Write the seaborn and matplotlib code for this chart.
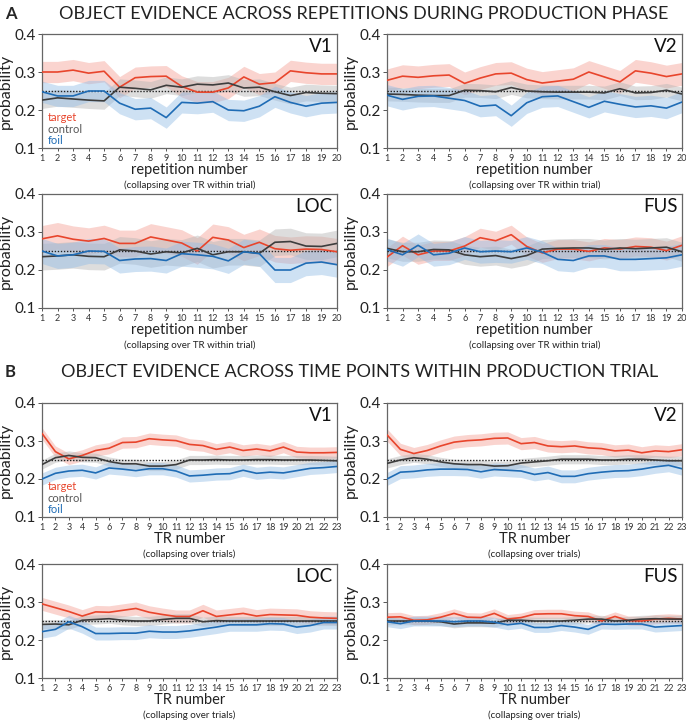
import numpy as np
import pandas as pd
import matplotlib
matplotlib.use("Agg")
import matplotlib.pyplot as plt
import seaborn as sns

# ---- data ----
reps = list(range(1, 21))
trs = list(range(1, 24))
CHANCE = 0.25

# A: across repetitions
rep_v1_target = [0.300, 0.300, 0.305, 0.297, 0.302, 0.260, 0.285, 0.288, 0.289, 0.262,
                 0.247, 0.247, 0.258, 0.287, 0.268, 0.272, 0.303, 0.298, 0.295, 0.295]
rep_v1_control = [0.226, 0.232, 0.229, 0.226, 0.224, 0.260, 0.257, 0.253, 0.265, 0.260,
                  0.268, 0.266, 0.271, 0.258, 0.260, 0.248, 0.238, 0.246, 0.244, 0.243]
rep_v1_foil = [0.248, 0.237, 0.237, 0.250, 0.250, 0.218, 0.202, 0.205, 0.180, 0.220,
               0.218, 0.222, 0.200, 0.198, 0.210, 0.235, 0.220, 0.210, 0.218, 0.220]

rep_v2_target = [0.278, 0.289, 0.286, 0.290, 0.292, 0.270, 0.284, 0.295, 0.297, 0.280,
                 0.271, 0.276, 0.281, 0.300, 0.287, 0.274, 0.303, 0.297, 0.288, 0.295]
rep_v2_control = [0.242, 0.241, 0.239, 0.238, 0.238, 0.252, 0.251, 0.248, 0.259, 0.250,
                  0.248, 0.247, 0.247, 0.247, 0.245, 0.256, 0.245, 0.246, 0.252, 0.242]
rep_v2_foil = [0.239, 0.228, 0.236, 0.237, 0.231, 0.225, 0.210, 0.213, 0.185, 0.219,
               0.235, 0.237, 0.222, 0.207, 0.223, 0.215, 0.208, 0.211, 0.205, 0.221]

rep_loc_target = [0.282, 0.290, 0.281, 0.276, 0.283, 0.270, 0.270, 0.287, 0.279, 0.271,
                  0.250, 0.286, 0.279, 0.259, 0.273, 0.256, 0.252, 0.255, 0.254, 0.248]
rep_loc_control = [0.235, 0.237, 0.240, 0.236, 0.235, 0.253, 0.250, 0.242, 0.248, 0.245,
                   0.257, 0.240, 0.248, 0.248, 0.244, 0.273, 0.275, 0.263, 0.262, 0.270]
rep_loc_foil = [0.250, 0.237, 0.240, 0.250, 0.249, 0.225, 0.229, 0.230, 0.225, 0.243,
                0.240, 0.236, 0.224, 0.248, 0.243, 0.200, 0.200, 0.218, 0.221, 0.214]

rep_fus_target = [0.234, 0.264, 0.240, 0.250, 0.250, 0.263, 0.285, 0.277, 0.293, 0.262,
                  0.245, 0.255, 0.255, 0.249, 0.258, 0.255, 0.262, 0.260, 0.251, 0.265]
rep_fus_control = [0.257, 0.248, 0.248, 0.254, 0.253, 0.240, 0.235, 0.238, 0.230, 0.238,
                   0.255, 0.257, 0.258, 0.258, 0.254, 0.258, 0.256, 0.258, 0.260, 0.248]
rep_fus_foil = [0.254, 0.240, 0.265, 0.240, 0.244, 0.258, 0.248, 0.250, 0.248, 0.258,
                0.247, 0.228, 0.225, 0.237, 0.237, 0.228, 0.228, 0.230, 0.232, 0.240]

# B: across TRs
tr_v1_target = [0.320, 0.272, 0.253, 0.262, 0.275, 0.281, 0.296, 0.297, 0.306, 0.303, 0.301, 0.291,
                0.288, 0.278, 0.284, 0.275, 0.279, 0.274, 0.284, 0.271, 0.269, 0.269, 0.270]
tr_v1_control = [0.238, 0.256, 0.262, 0.257, 0.256, 0.246, 0.240, 0.240, 0.234, 0.234, 0.238, 0.250,
                 0.250, 0.251, 0.250, 0.250, 0.251, 0.251, 0.250, 0.250, 0.250, 0.249, 0.248]
tr_v1_foil = [0.200, 0.215, 0.221, 0.223, 0.216, 0.229, 0.226, 0.222, 0.227, 0.227, 0.221, 0.208,
              0.210, 0.213, 0.214, 0.223, 0.215, 0.218, 0.216, 0.222, 0.228, 0.230, 0.233]

tr_v2_target = [0.316, 0.278, 0.267, 0.275, 0.287, 0.297, 0.301, 0.303, 0.307, 0.308, 0.293, 0.296,
                0.287, 0.285, 0.287, 0.282, 0.280, 0.274, 0.276, 0.269, 0.274, 0.272, 0.277]
tr_v2_control = [0.241, 0.250, 0.256, 0.252, 0.245, 0.240, 0.238, 0.238, 0.234, 0.235, 0.242, 0.245,
                 0.248, 0.252, 0.252, 0.252, 0.250, 0.250, 0.252, 0.252, 0.250, 0.248, 0.248]
tr_v2_foil = [0.200, 0.218, 0.220, 0.224, 0.226, 0.226, 0.225, 0.219, 0.225, 0.223, 0.221, 0.212,
              0.217, 0.207, 0.207, 0.214, 0.218, 0.221, 0.222, 0.226, 0.232, 0.236, 0.227]

tr_loc_target = [0.295, 0.285, 0.275, 0.263, 0.274, 0.273, 0.278, 0.283, 0.273, 0.267, 0.262, 0.262,
                 0.277, 0.262, 0.266, 0.270, 0.263, 0.267, 0.266, 0.265, 0.260, 0.258, 0.257]
tr_loc_control = [0.241, 0.242, 0.240, 0.252, 0.254, 0.256, 0.252, 0.250, 0.250, 0.254, 0.257, 0.257,
                  0.248, 0.251, 0.250, 0.250, 0.250, 0.250, 0.250, 0.250, 0.250, 0.250, 0.250]
tr_loc_foil = [0.222, 0.228, 0.248, 0.235, 0.217, 0.217, 0.218, 0.218, 0.223, 0.221, 0.221, 0.224,
               0.229, 0.234, 0.240, 0.240, 0.240, 0.243, 0.242, 0.234, 0.238, 0.246, 0.246]

tr_fus_target = [0.260, 0.261, 0.252, 0.253, 0.260, 0.270, 0.260, 0.259, 0.270, 0.255, 0.259, 0.268,
                 0.269, 0.269, 0.264, 0.262, 0.250, 0.262, 0.251, 0.250, 0.255, 0.257, 0.255]
tr_fus_control = [0.250, 0.250, 0.250, 0.250, 0.248, 0.242, 0.245, 0.245, 0.244, 0.252, 0.252, 0.250,
                  0.250, 0.250, 0.252, 0.255, 0.255, 0.250, 0.252, 0.255, 0.256, 0.255, 0.255]
tr_fus_foil = [0.248, 0.243, 0.250, 0.250, 0.250, 0.248, 0.250, 0.250, 0.247, 0.240, 0.244, 0.233,
               0.233, 0.238, 0.234, 0.228, 0.242, 0.241, 0.242, 0.242, 0.234, 0.236, 0.238]

# band half-widths (target, control, foil)
rep_err = {"V1": [0.028, 0.022, 0.028], "V2": [0.030, 0.018, 0.028],
           "LOC": [0.035, 0.035, 0.033], "FUS": [0.025, 0.025, 0.030]}
tr_err = {"V1": [0.015, 0.012, 0.016], "V2": [0.016, 0.012, 0.017],
          "LOC": [0.017, 0.012, 0.017], "FUS": [0.012, 0.010, 0.013]}

conditions = ["target", "control", "foil"]
line_colors = {"target": "#e8452c", "control": "#3d3d3d", "foil": "#1f6cb5"}
band_colors = {"target": "#f4a196", "control": "#b5b5b5", "foil": "#93bde6"}
text_colors = {"target": "#e8452c", "control": "#555555", "foil": "#1f6cb5"}

rep_data = {"V1": [rep_v1_target, rep_v1_control, rep_v1_foil],
            "V2": [rep_v2_target, rep_v2_control, rep_v2_foil],
            "LOC": [rep_loc_target, rep_loc_control, rep_loc_foil],
            "FUS": [rep_fus_target, rep_fus_control, rep_fus_foil]}
tr_data = {"V1": [tr_v1_target, tr_v1_control, tr_v1_foil],
           "V2": [tr_v2_target, tr_v2_control, tr_v2_foil],
           "LOC": [tr_loc_target, tr_loc_control, tr_loc_foil],
           "FUS": [tr_fus_target, tr_fus_control, tr_fus_foil]}

sns.set_theme(style="ticks")
plt.rcParams["font.family"] = ["Lato", "DejaVu Sans"]

fig = plt.figure(figsize=(6.86, 7.22), dpi=100)

W, H = 686, 722
col_x = [42, 387]
ax_w = 295
row_top = {"A": [34, 194], "B": [403, 564]}
ax_h = 114


def make_ax(x, top):
    return fig.add_axes([x / W, 1 - (top + ax_h) / H, ax_w / W, ax_h / H])


def draw_panel(ax, x, series, errs, name, xlabel, sub, legend):
    df = pd.DataFrame({"x": x})
    for cond, vals, e in zip(conditions, series, errs):
        v = np.array(vals)
        ax.fill_between(x, v - e, v + e, color=band_colors[cond], alpha=0.45, lw=0)
    ax.axhline(CHANCE, ls=(0, (1, 1.2)), color="#222222", lw=1.0, zorder=3)
    for cond, vals in zip(conditions, series):
        df[cond] = vals
        sns.lineplot(data=df, x="x", y=cond, color=line_colors[cond], lw=1.2, ax=ax, zorder=4)
    ax.set_xlim(x[0], x[-1])
    ax.set_ylim(0.1, 0.4)
    ax.set_xticks(x)
    ax.set_xticklabels([str(i) for i in x], fontsize=6.5, color="#333333")
    ax.set_yticks([0.1, 0.2, 0.3, 0.4])
    ax.set_yticklabels(["0.1", "0.2", "0.3", "0.4"], fontsize=11, color="#222222")
    ax.tick_params(axis="x", length=2.5, width=0.7, pad=1.5, color="#555555")
    ax.tick_params(axis="y", length=3, width=0.7, pad=1.5, color="#555555")
    for s in ax.spines.values():
        s.set_visible(True)
        s.set_color("#666666")
        s.set_linewidth(0.9)
    ax.set_ylabel("probability", fontsize=11.5, labelpad=1, color="#222222")
    ax.set_xlabel(xlabel, fontsize=10.5, labelpad=0, color="#222222")
    ax.text(0.5, -0.33, sub, transform=ax.transAxes, ha="center", va="center",
            fontsize=7, color="#222222")
    ax.text(0.985, 0.89, name, transform=ax.transAxes, ha="right", va="center",
            fontsize=13.5, color="#111111")
    if legend:
        for i, cond in enumerate(conditions):
            ax.text(0.02, 0.265 - i * 0.1, cond, transform=ax.transAxes, ha="left",
                    va="center", fontsize=8, color=text_colors[cond])


layout = [("V1", 0, 0), ("V2", 1, 0), ("LOC", 0, 1), ("FUS", 1, 1)]
for name, c, r in layout:
    ax = make_ax(col_x[c], row_top["A"][r])
    draw_panel(ax, reps, rep_data[name], rep_err[name], name, "repetition number",
               "(collapsing over TR within trial)", name == "V1")
    ax = make_ax(col_x[c], row_top["B"][r])
    draw_panel(ax, trs, tr_data[name], tr_err[name], name, "TR number",
               "(collapsing over trials)", name == "V1")

fig.text(5 / W, 1 - 14 / H, "A", fontsize=12, fontweight="bold", va="center", ha="left")
fig.text(364 / W, 1 - 14 / H, "OBJECT EVIDENCE ACROSS REPETITIONS DURING PRODUCTION PHASE",
         fontsize=13, va="center", ha="center", color="#222222")
fig.text(5 / W, 1 - 372 / H, "B", fontsize=12, fontweight="bold", va="center", ha="left")
fig.text(360 / W, 1 - 372 / H, "OBJECT EVIDENCE ACROSS TIME POINTS WITHIN PRODUCTION TRIAL",
         fontsize=13, va="center", ha="center", color="#222222")

fig.savefig("out.png", dpi=100)
